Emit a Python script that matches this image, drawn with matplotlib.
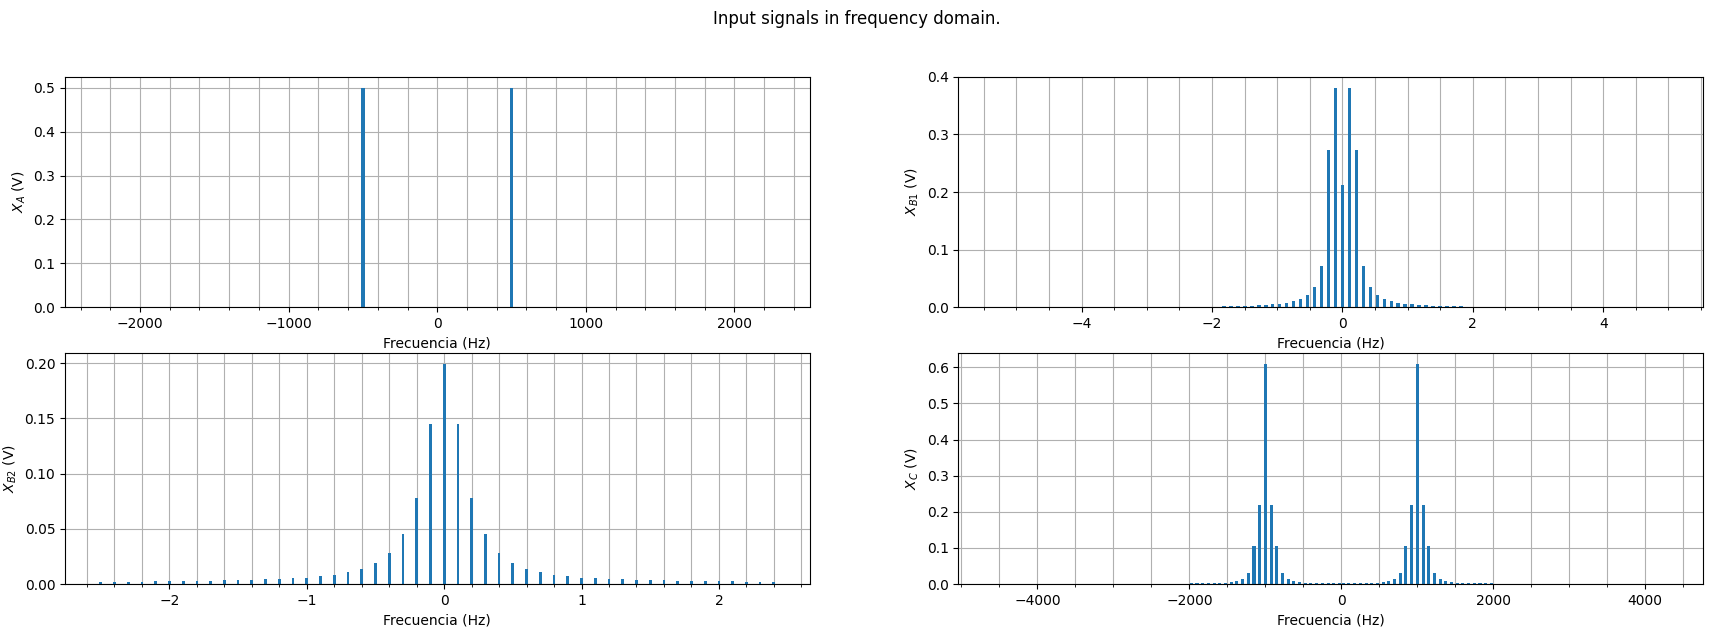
import numpy as np
import matplotlib
matplotlib.use("Agg")
import matplotlib.pyplot as plt
from matplotlib.ticker import AutoMinorLocator

# --- X_A: two tones at +-500 Hz
fa = [-500, 500]
xa = [0.5, 0.5]

# --- X_B1: spectrum, bin step ~0.107 Hz, index k = -23..23
step_b1 = 0.107
xb1_half = [0.212, 0.381, 0.273, 0.071, 0.035, 0.021, 0.015, 0.011, 0.008, 0.006,
            0.005, 0.004, 0.0033, 0.0028, 0.0024, 0.002, 0.0017, 0.0015, 0.0013,
            0.0011, 0.001, 0.0009, 0.0008, 0.0007]
xb1 = xb1_half[:0:-1] + xb1_half
fb1 = np.arange(-23, 24) * step_b1

# --- X_B2: spectrum, bins -2.5 .. 2.4 Hz every 0.1 Hz
xb2_half = [0.199, 0.1446, 0.0777, 0.0452, 0.028, 0.0193, 0.0139, 0.0111, 0.0084,
            0.0072, 0.0057, 0.0051, 0.0047, 0.0042, 0.0039, 0.0036, 0.0032, 0.003,
            0.0029, 0.0026, 0.0024, 0.0023, 0.0021, 0.002, 0.0018, 0.0017]
xb2 = xb2_half[:0:-1] + xb2_half[:-1]
fb2 = np.arange(-25, 25) * 0.1

# --- X_C: two clusters around +-1000 Hz, bin step ~75 Hz, offsets k = -13..13
step_c = 75
xc_half = [0.608, 0.22, 0.105, 0.03, 0.014, 0.008, 0.0055, 0.004, 0.0033, 0.003,
           0.0028, 0.0026, 0.0024, 0.0022]
xc_cluster = xc_half[:0:-1] + xc_half
k_c = np.arange(-13, 14)
fc = np.concatenate([-1000 + k_c * step_c, 1000 + k_c * step_c])
xc = xc_cluster + xc_cluster

fig, axs = plt.subplots(2, 2, figsize=(17.13, 6.34), dpi=100)
fig.subplots_adjust(left=65/1713, right=1703/1713, bottom=1-584/634,
                    top=1-76.7/634, wspace=0.2, hspace=0.2)
fig.suptitle("Input signals in frequency domain.", y=0.984)

panels = [
    (axs[0, 0], fa, xa, 22, "$X_A$ (V)", (-2505, 2505)),
    (axs[0, 1], fb1, xb1, 0.055, "$X_{B1}$ (V)", (-5.89, 5.53)),
    (axs[1, 0], fb2, xb2, 0.02, "$X_{B2}$ (V)", (-2.76, 2.66)),
    (axs[1, 1], fc, xc, 40, "$X_C$ (V)", (-5040, 4760)),
]

for ax, f, x, w, lab, xl in panels:
    ax.bar(f, x, width=w, color="C0")
    ax.set_xlim(xl)
    ax.set_ylabel(lab)
    ax.set_xlabel("Frecuencia (Hz)")
    ax.xaxis.set_minor_locator(AutoMinorLocator())
    ax.grid(which="major", axis="both")
    ax.grid(which="minor", axis="x")
    ax.set_axisbelow(True)

plt.savefig("out.png")
